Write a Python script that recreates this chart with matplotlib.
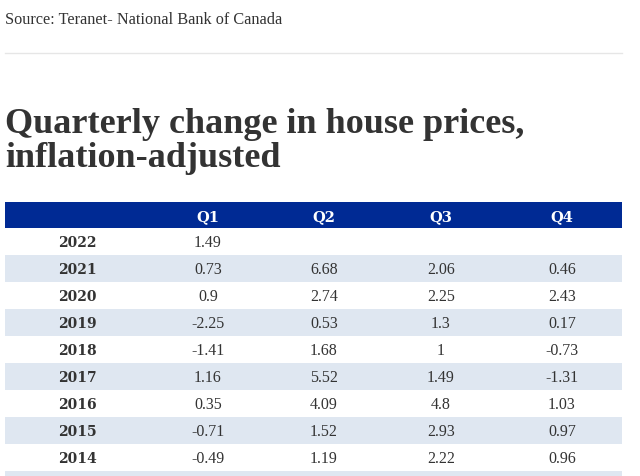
import matplotlib
matplotlib.use("Agg")
import matplotlib.pyplot as plt
from matplotlib.patches import Rectangle

source = "Source: Teranet- National Bank of Canada"
title_lines = ["Quarterly change in house prices,", "inflation-adjusted"]
columns = ["Q1", "Q2", "Q3", "Q4"]
years = ["2022", "2021", "2020", "2019", "2018", "2017", "2016", "2015", "2014"]
q1 = ["1.49", "0.73", "0.9", "-2.25", "-1.41", "1.16", "0.35", "-0.71", "-0.49"]
q2 = ["", "6.68", "2.74", "0.53", "1.68", "5.52", "4.09", "1.52", "1.19"]
q3 = ["", "2.06", "2.25", "1.3", "1", "1.49", "4.8", "2.93", "2.22"]
q4 = ["", "0.46", "2.43", "0.17", "-0.73", "-1.31", "1.03", "0.97", "0.96"]

W, H = 640, 477
fig = plt.figure(figsize=(W / 100, H / 100), dpi=100)
ax = fig.add_axes([0, 0, 1, 1])
ax.set_xlim(0, W)
ax.set_ylim(H, 0)
ax.axis("off")

serif = ["Liberation Serif", "DejaVu Serif"]
wide = ["DejaVu Serif"]
dark = "#333333"

ax.text(5, 20, source, fontsize=11.7, family=serif, color=dark, va="center", ha="left")
ax.plot([5, 622], [54, 54], color="#e6e6e6", lw=1)

ax.text(5, 133, title_lines[0], fontsize=26, family=serif, weight="bold", color=dark,
        va="baseline", ha="left")
ax.text(5, 167, title_lines[1], fontsize=26, family=serif, weight="bold", color=dark,
        va="baseline", ha="left")

left, right = 5, 622
header_top, header_h = 203, 26
row_h = 27
col_x = [208, 324, 441, 562]
year_x = 77
header_color = "#002a94"
stripe = "#dfe7f1"

ax.add_patch(Rectangle((left, header_top), right - left, header_h, color=header_color, lw=0))
for x, c in zip(col_x, columns):
    ax.text(x, header_top + header_h / 2 + 1, c, fontsize=10.5, family=wide, weight="bold",
            color="white", ha="center", va="center")

values = [q1, q2, q3, q4]
top0 = header_top + header_h
n = len(years)
for i in range(n + 1):
    y0 = top0 + i * row_h
    if i % 2 == 1:
        ax.add_patch(Rectangle((left, y0), right - left, row_h, color=stripe, lw=0))
for i, yr in enumerate(years):
    yc = top0 + i * row_h + row_h / 2 + 0.5
    ax.text(year_x, yc, yr, fontsize=10, family=wide, weight="bold", color=dark,
            ha="center", va="center")
    for x, col in zip(col_x, values):
        if col[i]:
            ax.text(x, yc, col[i], fontsize=11.5, family=serif, color=dark,
                    ha="center", va="center")

fig.savefig("out.png", dpi=100)
